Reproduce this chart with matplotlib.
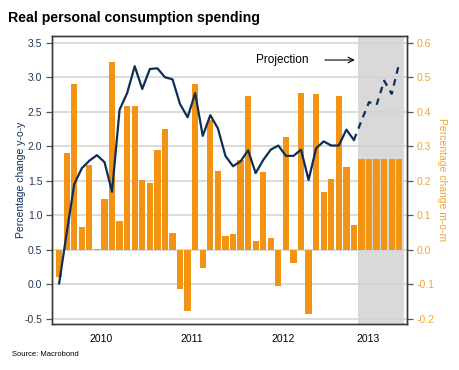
import matplotlib
matplotlib.use("Agg")
import matplotlib.pyplot as plt
from matplotlib.ticker import FixedLocator, NullFormatter

plt.rcParams["font.family"] = ["Liberation Sans", "DejaVu Sans"]

# monthly data, Jan 2010 .. Apr 2013 actual, May .. Oct 2013 projection
mom_actual = [-0.08, 0.28, 0.48, 0.067, 0.246, 0.002, 0.147, 0.544, 0.082, 0.418, 0.418, 0.203,
              0.194, 0.288, 0.35, 0.047, -0.115, -0.178, 0.48, -0.052, 0.377, 0.228, 0.039, 0.044,
              0.259, 0.445, 0.026, 0.224, 0.033, -0.104, 0.327, -0.04, 0.455, -0.188, 0.452, 0.167,
              0.204, 0.446, 0.241, 0.071]
mom_proj = [0.263, 0.263, 0.263, 0.263, 0.263, 0.263]
yoy_actual = [0.01, 0.74, 1.45, 1.68, 1.79, 1.87, 1.77, 1.34, 2.53, 2.77, 3.16, 2.83,
              3.12, 3.13, 3.00, 2.97, 2.61, 2.42, 2.77, 2.15, 2.45, 2.26, 1.86, 1.71,
              1.78, 1.94, 1.61, 1.80, 1.95, 2.01, 1.86, 1.86, 1.95, 1.51, 1.97, 2.07,
              2.01, 2.01, 2.24, 2.09]
yoy_proj = [2.37, 2.64, 2.60, 2.95, 2.76, 3.21]
years = ["2010", "2011", "2012", "2013"]

ORANGE = "#F39313"
NAVY = "#0E2E57"
TICK_NAVY = "#22375A"
RIGHT_ORANGE = "#F2A52E"

n_act = len(mom_actual)
x_act = list(range(n_act))
x_proj = list(range(n_act, n_act + len(mom_proj)))
bar_w = 0.83

fig = plt.figure(figsize=(4.6, 3.7), dpi=100)
ax = fig.add_axes([0.113, 0.124, 0.772, 0.779])
ax2 = ax.twinx()
ax.set_zorder(2)
ax2.set_zorder(1)
ax.patch.set_visible(False)

xmax = 46.45
ax.set_xlim(-0.53, xmax)
ax.set_ylim(-0.58, 3.60)
ax2.set_ylim((-0.58 - 0.5) / 5, (3.60 - 0.5) / 5)

# projection shading and grid behind bars
ax2.axvspan(n_act, n_act + len(mom_proj), color="#D9D9D9", lw=0, zorder=0)
ax2.set_yticks([-0.2, -0.1, 0.0, 0.1, 0.2, 0.3, 0.4, 0.5, 0.6])
ax2.yaxis.grid(True, color="#D2D2D2", lw=1.1, zorder=0.5)
ax2.set_axisbelow(True)

ax2.bar(x_act, mom_actual, width=bar_w, align="edge", color=ORANGE, zorder=2)
ax2.bar(x_proj, mom_proj, width=bar_w, align="edge", color=ORANGE, zorder=2)

# y-o-y line, solid for actual, dashed for projection
centers = [x + bar_w / 2 for x in x_act]
pcenters = [centers[-1]] + [x + bar_w / 2 for x in x_proj]
ax.plot(centers, yoy_actual, color=NAVY, lw=1.6, zorder=3)
ax.plot(pcenters, [yoy_actual[-1]] + yoy_proj, color=NAVY, lw=1.6,
        ls=(0, (3, 2.5)), zorder=3)

ax.set_yticks([-0.5, 0.0, 0.5, 1.0, 1.5, 2.0, 2.5, 3.0, 3.5])
ax.set_yticklabels(["-0.5", "0.0", "0.5", "1.0", "1.5", "2.0", "2.5", "3.0", "3.5"])
ax2.set_yticklabels(["-0.2", "-0.1", "0.0", "0.1", "0.2", "0.3", "0.4", "0.5", "0.6"])

ax.tick_params(axis="y", labelsize=7.5, labelcolor=TICK_NAVY, color="#555555",
               length=4, width=0.9, pad=3)
ax2.tick_params(axis="y", labelsize=7.5, labelcolor=RIGHT_ORANGE, color="#555555",
                length=4, width=0.9, pad=3)

# year ticks on boundaries, labels in the middle
ax.xaxis.set_major_locator(FixedLocator([0, 12, 24, 36]))
ax.xaxis.set_major_formatter(NullFormatter())
label_pos = [6, 18, 30, (36 + xmax) / 2]
ax.xaxis.set_minor_locator(FixedLocator(label_pos))
ax.set_xticklabels(years, minor=True)
ax.tick_params(axis="x", which="major", length=5, width=0.9, color="#333333")
ax.tick_params(axis="x", which="minor", length=0, labelsize=7.5, pad=7)
ax2.set_xticks([])

for a in (ax, ax2):
    for side in a.spines:
        a.spines[side].set_color("#3A3A3A")
        a.spines[side].set_linewidth(1.0)

ax.set_ylabel("Percentage change y-o-y", fontsize=7.5, color=NAVY, labelpad=-1)
ax2.set_ylabel("Percentage change m-o-m", fontsize=7.5, color=RIGHT_ORANGE,
               rotation=270, labelpad=8.5)

ax.text(33.4, 3.25, "Projection", fontsize=8.5, ha="right", va="center", zorder=4)
ax.annotate("", xy=(39.9, 3.25), xytext=(35.2, 3.25),
            arrowprops=dict(arrowstyle="->", lw=0.8, color="black"), zorder=4)

fig.text(0.018, 0.952, "Real personal consumption spending", fontsize=10.2,
         fontweight="bold", ha="left", va="center")
fig.text(0.025, 0.043, "Source: Macrobond", fontsize=5.5, ha="left", va="center")

fig.savefig("out.png", dpi=100)
plt.close(fig)
